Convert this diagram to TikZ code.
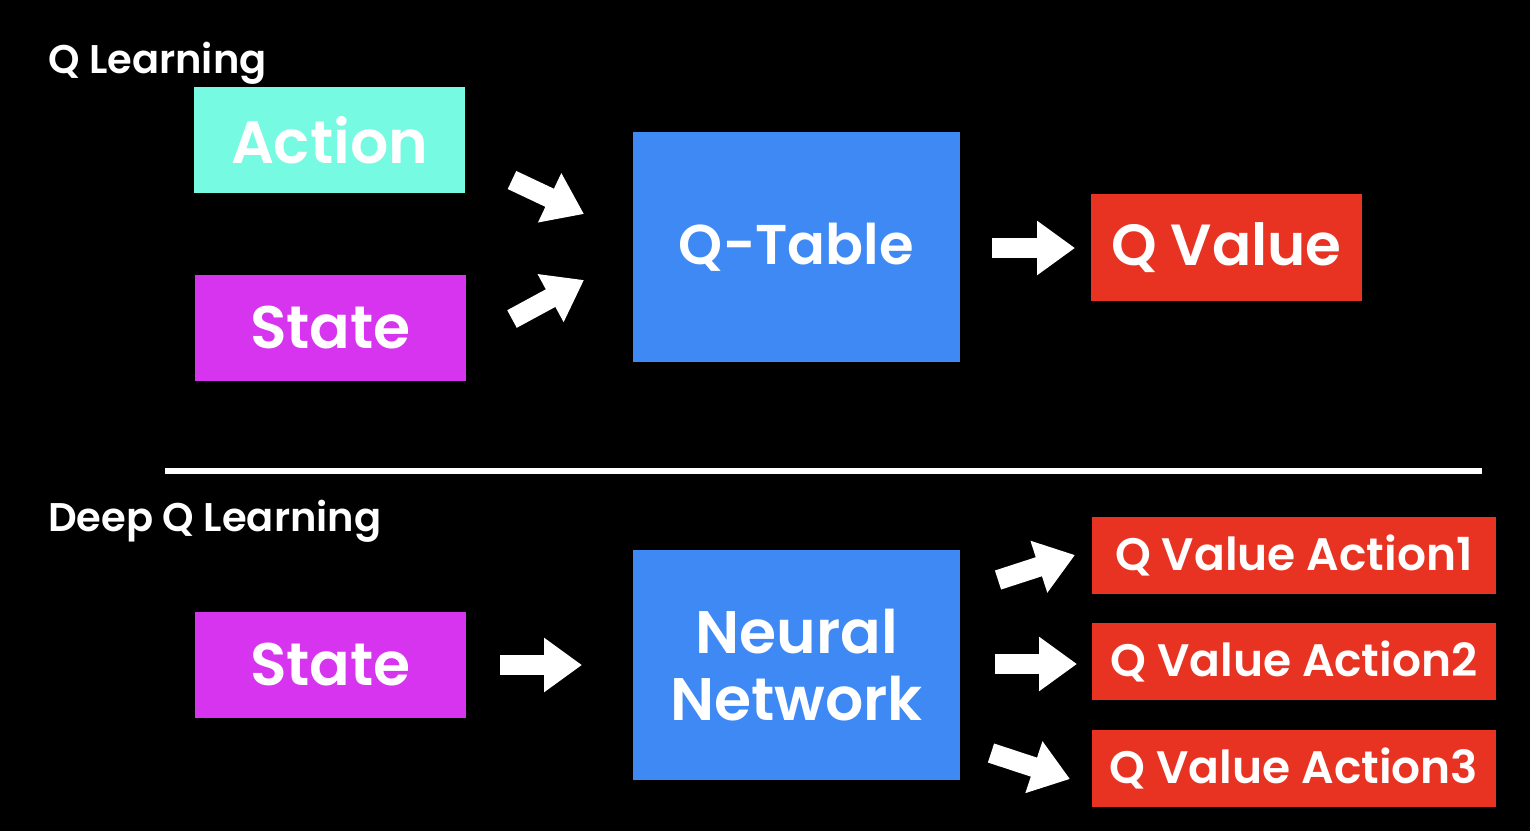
\documentclass[tikz,border=0pt]{standalone}
\usepackage{fontspec}
\setmainfont{Poppins}[BoldFont={* SemiBold}]
\usetikzlibrary{arrows.meta}
\definecolor{cact}{HTML}{77FAE2}
\definecolor{cstate}{HTML}{D634EF}
\definecolor{cblue}{HTML}{3F89F4}
\definecolor{cred}{HTML}{E83323}
\tikzset{
  box/.style={draw=none, inner sep=0pt, text=white, font=\bfseries\fontsize{60}{67}\selectfont, align=center},
  smallbox/.style={box, fill=cred, font=\bfseries\fontsize{45.5}{50}\selectfont},
  title/.style={anchor=base west, inner sep=0pt, text=white, font=\bfseries\fontsize{40}{44}\selectfont},
  blockarrow/.style={draw=white, line width=20pt, line cap=butt, -{Triangle[length=38pt,width=52pt]}},
}
\begin{document}
\begin{tikzpicture}[x=1pt,y=-1pt]
\fill[black] (0,0) rectangle (1530,831);
\useasboundingbox (0,0) rectangle (1530,831);
% top
\node[title] (ql) at (48,73) {Q Learning};
\node[box, fill=cact, minimum width=271pt, minimum height=106pt] (act) at (329.5,140) {Action};
\node[box, fill=cstate, minimum width=271pt, minimum height=106pt] (st1) at (330.5,328) {State};
\node[box, fill=cblue, minimum width=327pt, minimum height=230pt, font=\bfseries\fontsize{56}{62}\selectfont] (qt) at (796.5,247) {Q-Table};
\node[box, fill=cred, minimum width=271pt, minimum height=107pt, font=\bfseries\fontsize{58}{62}\selectfont] (qv) at (1226.5,247.5) {Q Value};
\coordinate (a1s) at (512,180); \coordinate (a1e) at (584,214);
\coordinate (a2s) at (512,319); \coordinate (a2e) at (584,280);
\coordinate (a3s) at (992,248); \coordinate (a3e) at (1075,248);
\draw[blockarrow] (a1s) -- (a1e);
\draw[blockarrow] (a2s) -- (a2e);
\draw[blockarrow] (a3s) -- (a3e);
% divider
\coordinate (l1) at (165,471); \coordinate (l2) at (1482,471);
\draw[white, line width=6pt] (l1) -- (l2);
% bottom
\node[title] (dql) at (48,531) {Deep Q Learning};
\node[box, fill=cstate, minimum width=271pt, minimum height=106pt] (st2) at (330.5,665) {State};
\node[box, fill=cblue, minimum width=327pt, minimum height=230pt] (nn) at (796.5,665) {Neural\\Network};
\node[smallbox, minimum width=404pt, minimum height=77pt] (o1) at (1294,555.5) {Q Value Action1};
\node[smallbox, minimum width=404pt, minimum height=77pt] (o2) at (1294,661.5) {Q Value Action2};
\node[smallbox, minimum width=404pt, minimum height=77pt] (o3) at (1294,768.5) {Q Value Action3};
\coordinate (b1s) at (500,665); \coordinate (b1e) at (582,665);
\coordinate (b2s) at (998,580); \coordinate (b2e) at (1075,555);
\coordinate (b3s) at (995,664); \coordinate (b3e) at (1077,664);
\coordinate (b4s) at (991,753); \coordinate (b4e) at (1070,779);
\draw[blockarrow] (b1s) -- (b1e);
\draw[blockarrow] (b2s) -- (b2e);
\draw[blockarrow] (b3s) -- (b3e);
\draw[blockarrow] (b4s) -- (b4e);
\end{tikzpicture}
\end{document}
